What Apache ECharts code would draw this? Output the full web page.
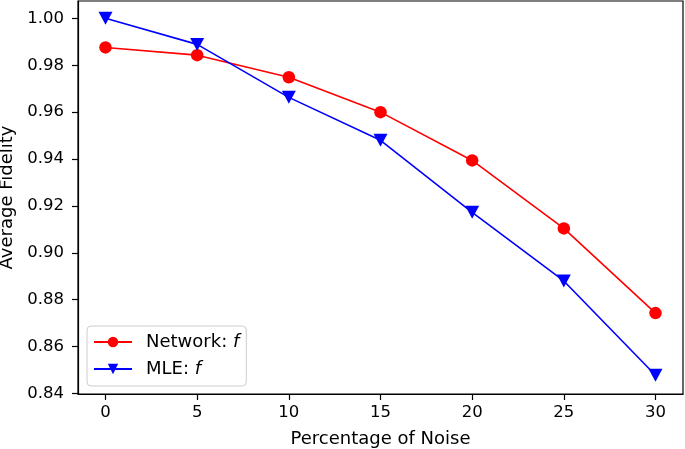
<!DOCTYPE html>
<html><head><meta charset="utf-8">
<script src="https://cdn.jsdelivr.net/npm/echarts@6/dist/echarts.min.js"></script>
<style>html,body{margin:0;padding:0;background:#fff}#c{width:685px;height:449px}</style>
</head><body><div id="c"></div>
<script>
const noise = [0, 5, 10, 15, 20, 25, 30];
const networkF = [0.9876, 0.9843, 0.9749, 0.9600, 0.9394, 0.9104, 0.8743];
const mleF = [1.0000, 0.9889, 0.9663, 0.9480, 0.9173, 0.8880, 0.8478];
const xTicks = [0, 5, 10, 15, 20, 25, 30];
const yTicks = [0.84, 0.86, 0.88, 0.90, 0.92, 0.94, 0.96, 0.98, 1.00];

const font = 'DejaVu Sans';
const fs = 16.5;
const fsName = 18;
const chart = echarts.init(document.getElementById('c'));
const tri = 'path://M0,0 L10,0 L5,9 Z';
chart.setOption({
  animation: false,
  grid: {left: 78, right: 2, top: 1, bottom: 55, containLabel: false, outerBoundsMode: 'none',
    show: true, borderColor: '#000', borderWidth: 1.2, backgroundColor: 'transparent'},
  xAxis: {
    type: 'value', min: -1.5, max: 31.5,
    name: 'Percentage of Noise', nameLocation: 'middle', nameGap: 36,
    nameTextStyle: {fontFamily: font, fontSize: fsName, color: '#000'},
    axisLine: {show: true, onZero: false, lineStyle: {color: '#000', width: 1.2}},
    axisTick: {show: true, length: 6, lineStyle: {color: '#000', width: 1.2}, customValues: xTicks},
    axisLabel: {fontFamily: font, fontSize: fs, color: '#000', margin: 10, customValues: xTicks},
    splitLine: {show: false}
  },
  yAxis: {
    type: 'value', min: 0.8398, max: 1.0074,
    name: 'Average Fidelity', nameLocation: 'middle', nameGap: 55,
    nameTextStyle: {fontFamily: font, fontSize: fsName, color: '#000'},
    axisLine: {show: true, onZero: false, lineStyle: {color: '#000', width: 1.2}},
    axisTick: {show: true, length: 6, lineStyle: {color: '#000', width: 1.2}, customValues: yTicks},
    axisLabel: {fontFamily: font, fontSize: fs, color: '#000', margin: 14, customValues: yTicks,
      formatter: v => v.toFixed(2)},
    splitLine: {show: false}
  },
  legend: {
    left: 87, top: 326, orient: 'vertical',
    itemWidth: 38, itemHeight: 13, itemGap: 9,
    padding: [7, 7, 8, 6],
    borderColor: '#ccc', borderWidth: 1, borderRadius: 4, backgroundColor: '#fff',
    textStyle: {fontFamily: font, fontSize: fsName, color: '#000', padding: [0, 0, 0, 9],
      rich: {i: {fontStyle: 'italic', fontFamily: font, fontSize: fsName}}},
    formatter: n => n === 'Network' ? 'Network: {i|f}' : 'MLE: {i|f}',
    data: ['Network', 'MLE']
  },
  series: [
    {name: 'Network', type: 'line', data: noise.map((x, i) => [x, networkF[i]]),
      symbol: 'circle', symbolSize: 12.5, color: '#ff0000',
      lineStyle: {width: 1.6, color: '#ff0000'}, itemStyle: {color: '#ff0000'}},
    {name: 'MLE', type: 'line', data: noise.map((x, i) => [x, mleF[i]]),
      symbol: tri, symbolSize: [14, 13], color: '#0000ff',
      lineStyle: {width: 1.6, color: '#0000ff'}, itemStyle: {color: '#0000ff'}}
  ]
});
</script></body></html>
